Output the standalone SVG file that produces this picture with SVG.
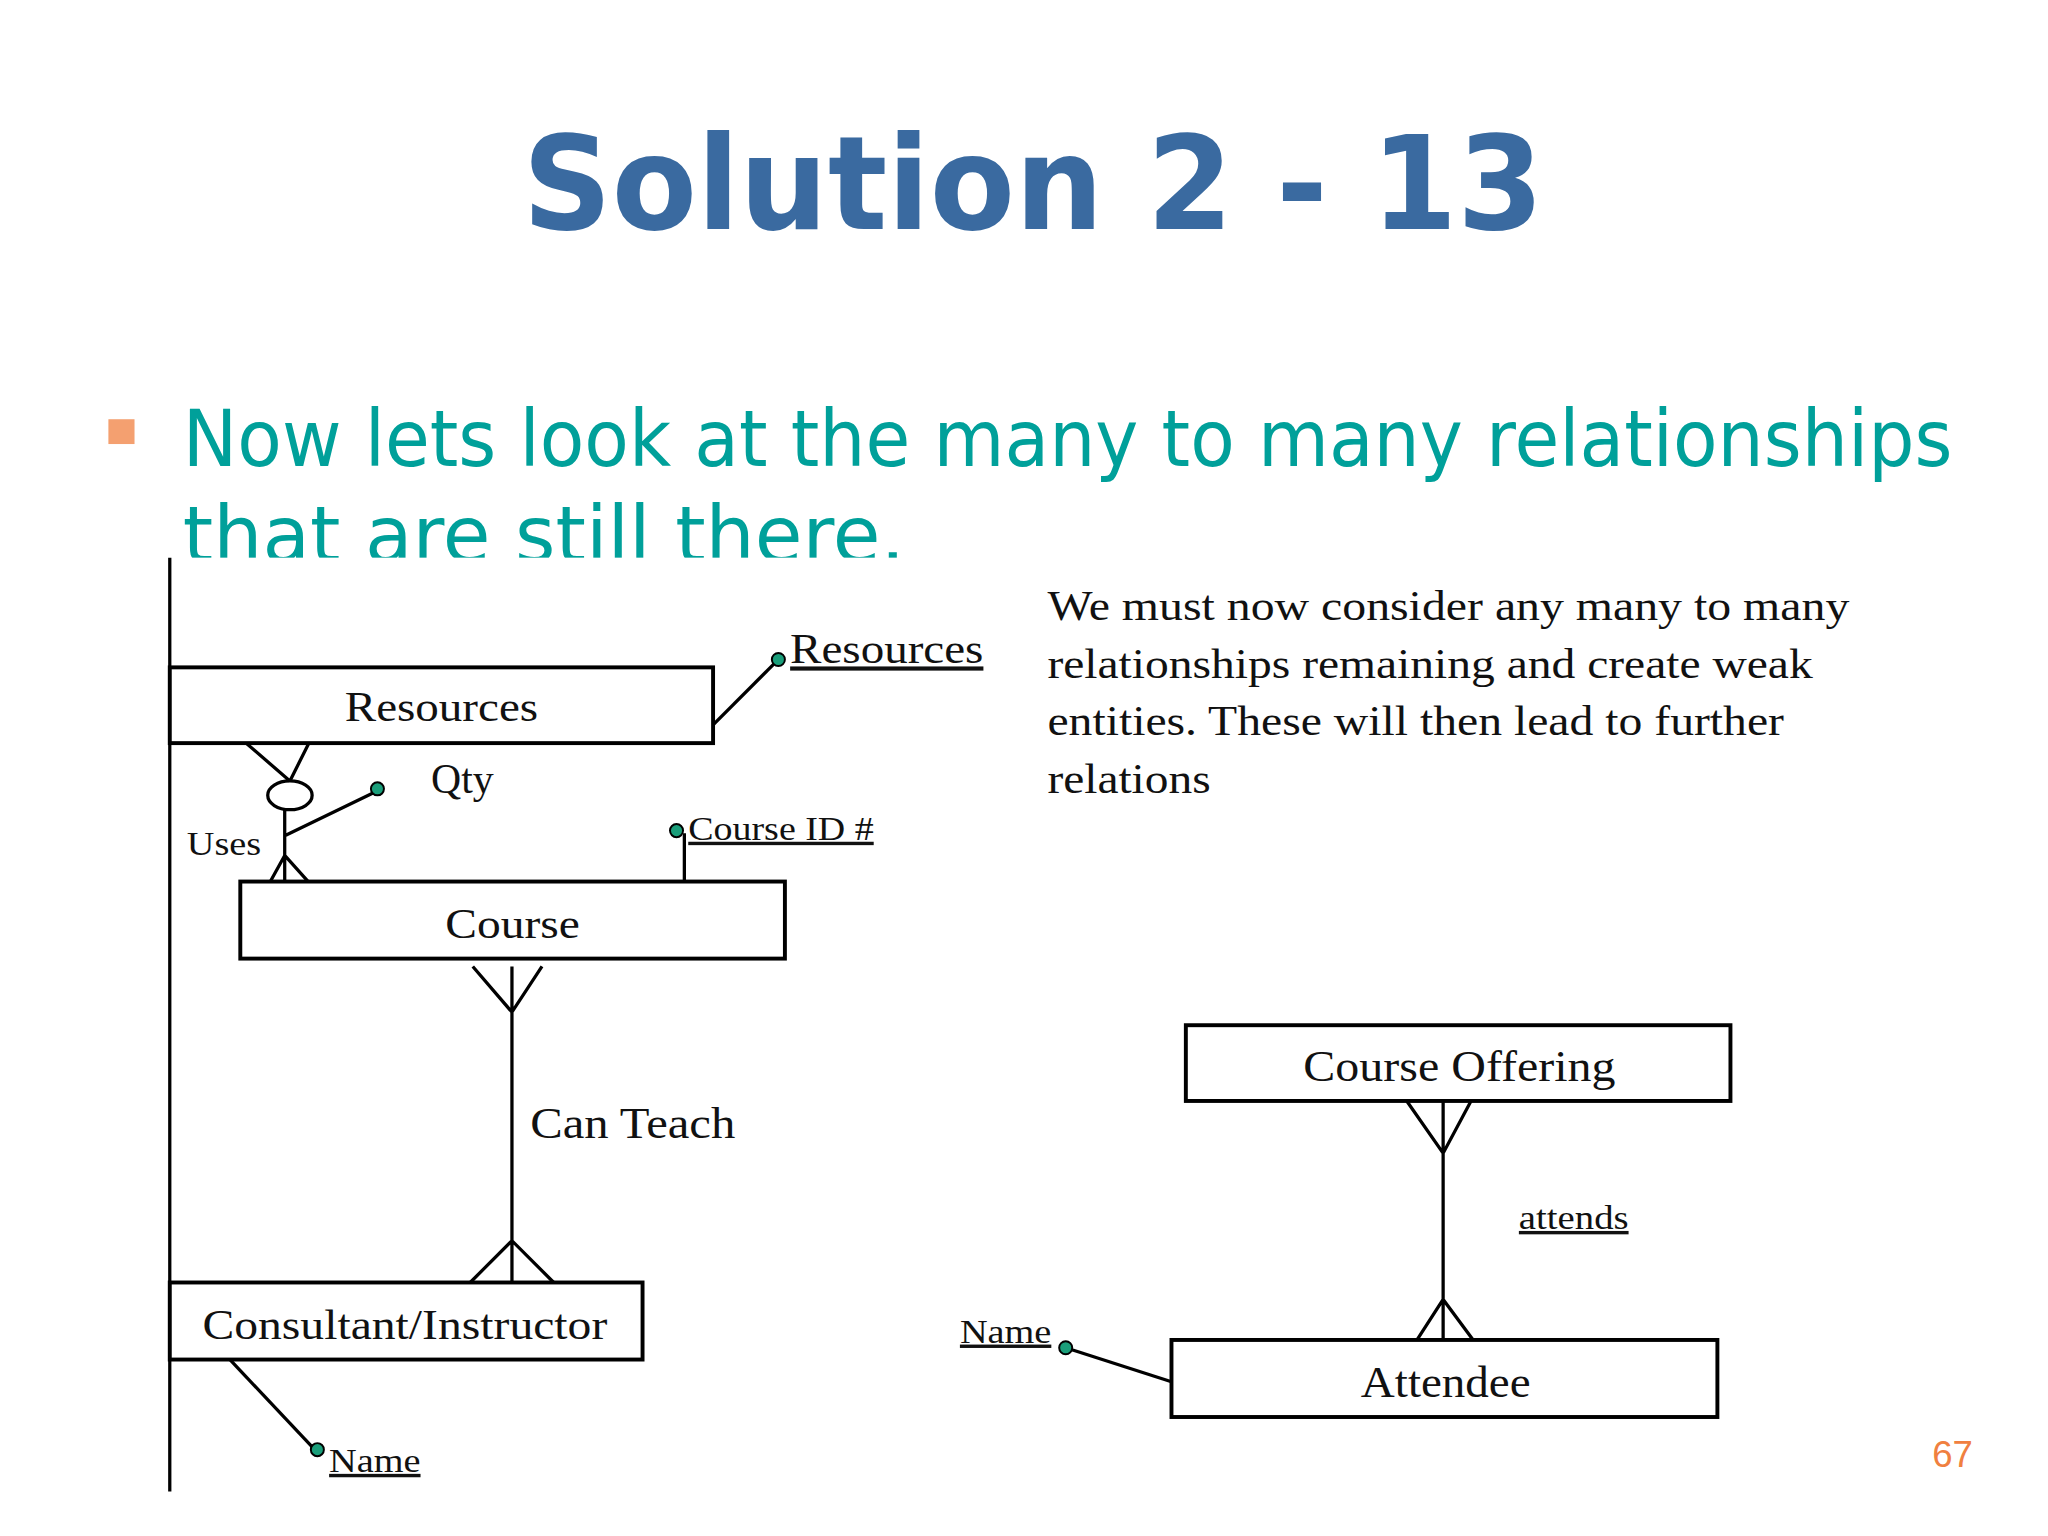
<svg xmlns="http://www.w3.org/2000/svg" width="2048" height="1536" viewBox="0 0 2048 1536">
<style>
.box{fill:#fff;stroke:#000;stroke-width:3}
.ln{stroke:#000;stroke-width:2.5;fill:none}
.dot{fill:#1a9e7a;stroke:#000;stroke-width:1.5}
.t{font-family:"Liberation Serif",serif;fill:#111}
.u{text-decoration:underline}
</style>
<rect width="2048" height="1536" fill="#fff"/>
<g transform="scale(1.306)">
<text x="400" y="175" textLength="782" lengthAdjust="spacingAndGlyphs" font-family="DejaVu Sans, sans-serif" font-weight="bold" font-size="100" fill="#3a6aa0">Solution 2 - 13</text>
<rect x="83" y="321" width="20" height="19" fill="#f4a070"/>
<text x="140" y="357" textLength="1355" lengthAdjust="spacingAndGlyphs" font-family="DejaVu Sans, sans-serif" font-size="60" fill="#00a09a">Now lets look at the many to many relationships</text>
<text x="140" y="430" textLength="553" lengthAdjust="spacingAndGlyphs" font-family="DejaVu Sans, sans-serif" font-size="60" fill="#00a09a">that are still there.</text>
<rect x="125" y="427" width="1440" height="750" fill="#fff"/>
<line x1="130" y1="427" x2="130" y2="1142" class="ln" stroke-width="2"/>
<g id="connectors">
<path class="ln" d="M546 555 L594 507"/>
<path class="ln" d="M185 566 L222 598 M238 566 L222 598"/>
<ellipse cx="222" cy="609" rx="17" ry="11" class="ln" fill="#fff"/>
<path class="ln" d="M218 620 L218 675 M218 655 L207 675 M218 655 L236 675 M218 640 L288 606"/>
<path class="ln" d="M524 638 L524 675"/>
<path class="ln" d="M362 740 L392 775 L415 740 M392 740 L392 982 M360 982 L392 950 L424 982"/>
<path class="ln" d="M175 1040 L241 1110"/>
<path class="ln" d="M1075 840 L1105 883 L1128 840 M1105 840 L1105 1026 M1085 1026 L1105 995 L1128 1026"/>
<path class="ln" d="M816 1032 L897 1058"/>
<circle cx="596" cy="505" r="5" class="dot"/>
<circle cx="289" cy="604" r="5" class="dot"/>
<circle cx="518" cy="636" r="5" class="dot"/>
<circle cx="243" cy="1110" r="5" class="dot"/>
<circle cx="816" cy="1032" r="5" class="dot"/>
</g>
<g id="resources"><rect x="130" y="511" width="416" height="58" class="box"/><text x="264" y="552" textLength="148" lengthAdjust="spacingAndGlyphs" class="t" font-size="32">Resources</text></g>
<g id="resources-attr"><text x="605" y="508" textLength="148" lengthAdjust="spacingAndGlyphs" class="t u" font-size="32">Resources</text></g>
<g id="qty"><text x="330" y="607" class="t" font-size="32">Qty</text></g>
<g id="uses"><text x="143" y="655" textLength="57" lengthAdjust="spacingAndGlyphs" class="t" font-size="26">Uses</text></g>
<g id="courseid"><text x="527" y="643" textLength="142" lengthAdjust="spacingAndGlyphs" class="t u" font-size="26">Course ID #</text></g>
<g id="course"><rect x="184" y="675" width="417" height="59" class="box"/><text x="341" y="718" textLength="103" lengthAdjust="spacingAndGlyphs" class="t" font-size="32">Course</text></g>
<g id="canteach"><text x="406" y="871" textLength="157" lengthAdjust="spacingAndGlyphs" class="t" font-size="34">Can Teach</text></g>
<g id="consultant"><rect x="130" y="982" width="362" height="59" class="box"/><text x="155" y="1025" textLength="310" lengthAdjust="spacingAndGlyphs" class="t" font-size="32">Consultant/Instructor</text></g>
<g id="name1"><text x="252" y="1127" textLength="70" lengthAdjust="spacingAndGlyphs" class="t u" font-size="26">Name</text></g>
<g id="para" class="t" font-size="32" fill="#333">
<text x="802" y="475" textLength="614" lengthAdjust="spacingAndGlyphs">We must now consider any many to many</text>
<text x="802" y="519" textLength="586" lengthAdjust="spacingAndGlyphs">relationships remaining and create weak</text>
<text x="802" y="563" textLength="564" lengthAdjust="spacingAndGlyphs">entities. These will then lead to further</text>
<text x="802" y="607" textLength="125" lengthAdjust="spacingAndGlyphs">relations</text>
</g>
<g id="offering"><rect x="908" y="785" width="417" height="58" class="box"/><text x="998" y="828" textLength="239" lengthAdjust="spacingAndGlyphs" class="t" font-size="34">Course Offering</text></g>
<g id="attends"><text x="1163" y="941" textLength="84" lengthAdjust="spacingAndGlyphs" class="t u" font-size="26">attends</text></g>
<g id="attendee"><rect x="897" y="1026" width="418" height="59" class="box"/><text x="1042" y="1070" textLength="130" lengthAdjust="spacingAndGlyphs" class="t" font-size="34">Attendee</text></g>
<g id="name2"><text x="735" y="1028" textLength="70" lengthAdjust="spacingAndGlyphs" class="t u" font-size="26">Name</text></g>
<text x="1495" y="1123" text-anchor="middle" font-family="Liberation Sans, sans-serif" font-size="28" fill="#f08040">67</text>
</g>
</svg>
